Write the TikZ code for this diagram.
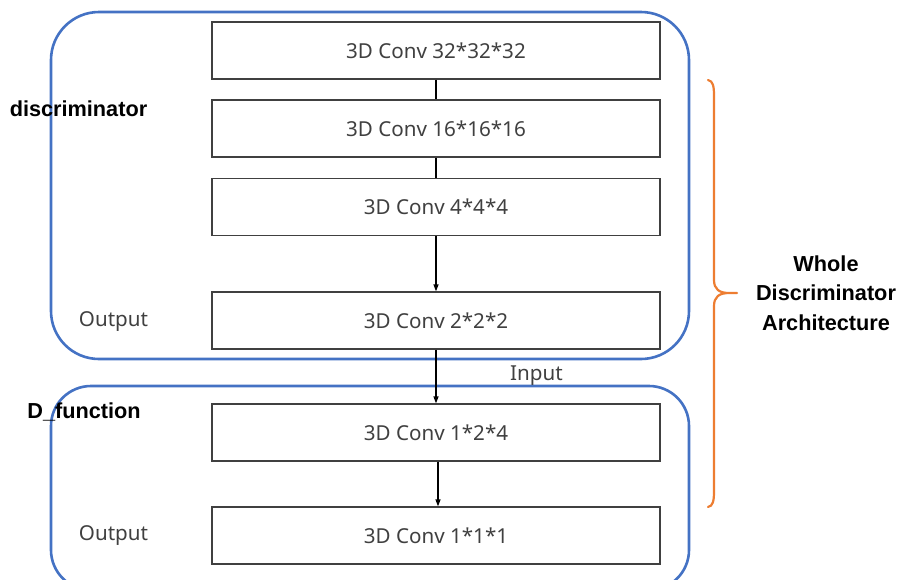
\documentclass[tikz,border=0pt]{standalone}
\usepackage{fontspec}
\setmainfont{Noto Sans}
\newfontfamily\lblfont{Liberation Sans}
\usetikzlibrary{arrows.meta}
\definecolor{boxblue}{HTML}{4472C4}
\definecolor{braceorange}{HTML}{ED7D31}
\definecolor{txtgray}{HTML}{404040}
\tikzset{
  convbox/.style={draw=txtgray, line width=1.3pt, minimum width=448pt, minimum height=57pt, inner sep=0pt, text=txtgray, font=\fontsize{20.6}{24}\selectfont},
  group/.style={draw=boxblue, line width=2.6pt},
  conn/.style={line width=1.3pt, black},
  arr/.style={conn, -{Triangle[length=7pt,width=5pt]}},
  plainlbl/.style={text=txtgray, font=\fontsize{20.6}{24}\selectfont, inner sep=0pt},
  boldlbl/.style={text=black, font=\lblfont\bfseries\fontsize{21.7}{25}\selectfont, inner sep=0pt}
}
\begin{document}
\begin{tikzpicture}[x=1pt,y=-1pt]
\useasboundingbox (0,0) rectangle (899,579);
\fill[white] (0,0) rectangle (899,579);
\begin{scope}
\clip (0,0) rectangle (899,579);
\draw[group, rounded corners=48pt] (51,12) rectangle (689,359);
\draw[group, rounded corners=40pt] (51,386) rectangle (689,590);
\end{scope}
\node[convbox] (c1) at (436,50.5) {3D Conv 32*32*32};
\node[convbox] (c2) at (436,128.5) {3D Conv 16*16*16};
\node[convbox] (c3) at (436,207) {3D Conv 4*4*4};
\node[convbox] (c4) at (436,320.5) {3D Conv 2*2*2};
\node[convbox] (c5) at (436,432.5) {3D Conv 1*2*4};
\node[convbox] (c6) at (436,535.5) {3D Conv 1*1*1};
\draw[conn] (c1) -- (c2);
\draw[conn] (c2) -- (c3);
\draw[arr] (c3) -- (c4);
\draw[arr] (c4) -- (c5);
\draw[arr] ([xshift=2pt]c5.south) -- ([xshift=2pt]c6.north);
\node[boldlbl] (ldisc) at (78.5,109) {discriminator};
\node[boldlbl] (ldf) at (84,412) {D\_function};
\node[plainlbl] (out1) at (113.5,321) {Output};
\node[plainlbl] (out2) at (113.5,535) {Output};
\node[plainlbl] (inp) at (536.5,376) {Input};
\draw[braceorange, line width=2.2pt, line cap=round]
  (708,80) .. controls (713,81) and (714,86) .. (714,96) -- (714,280)
  .. controls (714,289) and (719,293) .. (729,293) -- (737,293)
  (729,293) .. controls (719,293) and (714,297) .. (714,306) -- (714,491)
  .. controls (714,501) and (713,506) .. (708,507);
\coordinate (bracetip) at (737,293);
\node[boldlbl, align=center, font=\lblfont\bfseries\fontsize{21.7}{29.5}\selectfont] (whole) at (826,293) {Whole\\Discriminator\\Architecture};
\end{tikzpicture}
\end{document}
